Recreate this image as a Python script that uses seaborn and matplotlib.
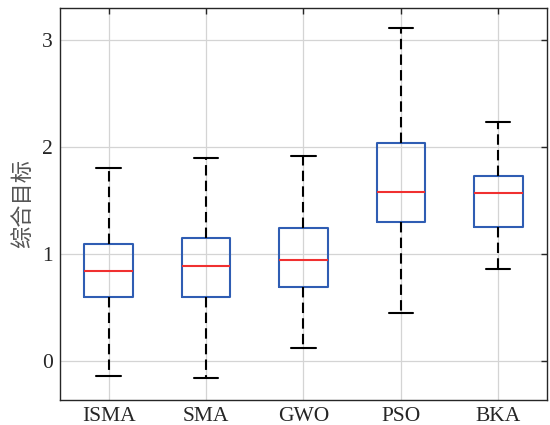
import numpy as np
import pandas as pd
import matplotlib
matplotlib.use("Agg")
import matplotlib.pyplot as plt
import seaborn as sns

# Five-number summaries (lower whisker, Q1, median, Q3, upper whisker)
categories = ["ISMA", "SMA", "GWO", "PSO", "BKA"]
lower_whisker = [-0.14, -0.16, 0.12, 0.45, 0.86]
q1 = [0.595, 0.595, 0.69, 1.30, 1.25]
median = [0.84, 0.89, 0.94, 1.58, 1.57]
q3 = [1.095, 1.145, 1.245, 2.04, 1.73]
upper_whisker = [1.80, 1.895, 1.915, 3.115, 2.235]
yticks = [0, 1, 2, 3]
ylabel = "综合目标"

rows = []
for i, c in enumerate(categories):
    for v in (lower_whisker[i], q1[i], median[i], q3[i], upper_whisker[i]):
        rows.append({"alg": c, "val": v})
df = pd.DataFrame(rows)

sns.set_theme(style="white")
plt.rcParams["font.family"] = ["Liberation Serif", "Noto Sans CJK SC", "DejaVu Sans"]

fig = plt.figure(figsize=(5.5, 4.25), dpi=100)
ax = fig.add_axes([0.109, 0.059, 0.8855, 0.922])

blue = "#2F5DB3"
red = "#F03030"
sns.boxplot(data=df, x="alg", y="val", order=categories, ax=ax, fill=False,
            width=0.5, whis=1.5, showfliers=False,
            boxprops=dict(color=blue, linewidth=1.5),
            medianprops=dict(color=red, linewidth=1.5),
            whiskerprops=dict(color="black", linewidth=1.5, linestyle=(0, (5, 2.5))),
            capprops=dict(color="black", linewidth=1.5))

# set cap widths to half the box width
for line in ax.lines:
    xd = np.asarray(line.get_xdata(), dtype=float)
    yd = np.asarray(line.get_ydata(), dtype=float)
    if len(xd) == 2 and yd[0] == yd[1] and line.get_color() in ("black", "k", (0, 0, 0, 1)):
        cx = xd.mean()
        line.set_xdata([cx - 0.125, cx + 0.125])

ax.set_xlim(-0.5, 4.5)
ax.set_ylim(-0.365, 3.3)
ax.set_yticks(yticks)
ax.set_xlabel("")
ax.set_ylabel(ylabel, fontsize=16, color="#555555", family=["Noto Sans CJK SC"], labelpad=6)
ax.grid(True, color="#d4d4d4", linewidth=0.9)
ax.set_axisbelow(True)
for s in ax.spines.values():
    s.set_color("#262626")
    s.set_linewidth(1.0)
ax.tick_params(axis="both", direction="in", length=4, width=1.0, color="#262626",
               top=True, right=True, labelsize=15.5, labelcolor="#262626", pad=5)

fig.savefig("out.png", dpi=100)
